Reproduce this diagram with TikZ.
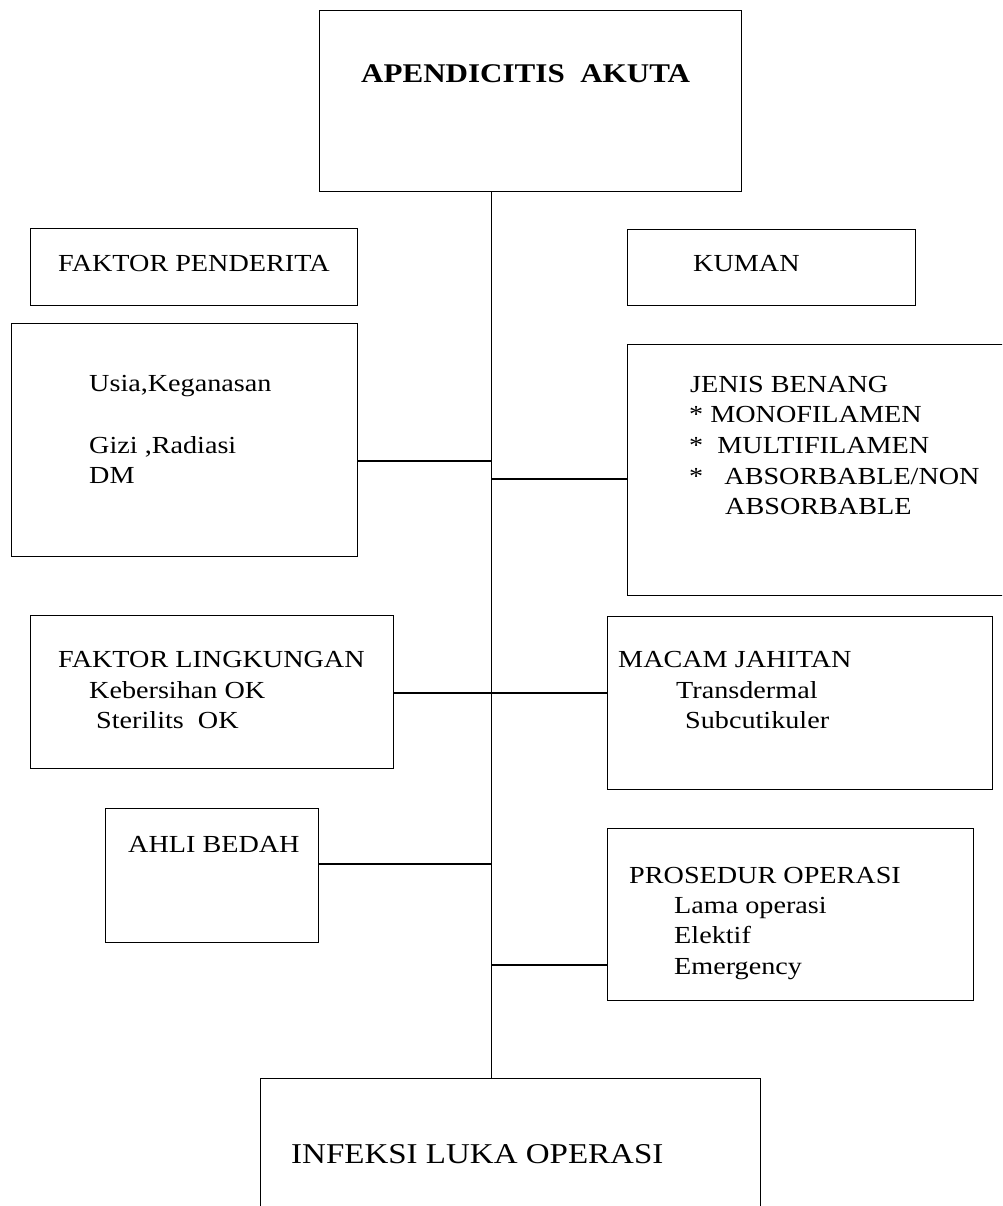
\documentclass[tikz,border=0pt]{standalone}
\usepackage{fontspec}
\setmainfont{Liberation Serif}[FakeStretch=1.15]
\begin{document}
\begin{tikzpicture}[x=1pt,y=-1pt,
    box/.style={draw,line width=1.4pt,inner sep=0pt,anchor=north west},
    txt/.style={anchor=base west,inner sep=0pt,font=\fontsize{24.5}{31}\selectfont},
    link/.style={line width=1.4pt}]
\clip (0,0) rectangle (1002,1206);
\node[box,minimum width=422,minimum height=181] (akut) at (319,10) {};
\node[box,minimum width=327,minimum height=77] (pend) at (30,228) {};
\node[box,minimum width=288,minimum height=76] (kuman) at (627,229) {};
\node[box,minimum width=346,minimum height=233] (usia) at (11,323) {};
\node[box,minimum width=390,minimum height=251] (jenis) at (627,344) {};
\node[box,minimum width=363,minimum height=153] (lingk) at (30,615) {};
\node[box,minimum width=385,minimum height=173] (macam) at (607,616) {};
\node[box,minimum width=213,minimum height=134] (ahli) at (105,808) {};
\node[box,minimum width=366,minimum height=172] (pros) at (607,828) {};
\node[box,minimum width=500,minimum height=140] (infek) at (260,1078) {};

\node[txt,font=\fontsize{27}{31}\selectfont\bfseries] (akutt) at (361,83) {APENDICITIS~~AKUTA};
\node[txt] (pendt) at (58,271) {FAKTOR PENDERITA};
\node[txt] (kument) at (693,271) {KUMAN};
\node[txt] (usia1) at (89,391) {Usia,Keganasan};
\node[txt] (usia2) at (89,453) {Gizi ,Radiasi};
\node[txt] (usia3) at (89,483) {DM};
\node[txt] (jenis1) at (690,392) {JENIS BENANG};
\node[txt] (jenis2) at (689,422) {* MONOFILAMEN};
\node[txt] (jenis3) at (689,453) {*~~MULTIFILAMEN};
\node[txt] (jenis4) at (689,484) {*~~~ABSORBABLE/NON};
\node[txt] (jenis5) at (725,514) {ABSORBABLE};
\node[txt] (lingk1) at (58,667) {FAKTOR LINGKUNGAN};
\node[txt] (lingk2) at (89,698) {Kebersihan OK};
\node[txt] (lingk3) at (96,728) {Sterilits~~OK};
\node[txt] (macam1) at (618,667) {MACAM JAHITAN};
\node[txt] (macam2) at (676,698) {Transdermal};
\node[txt] (macam3) at (685,728) {Subcutikuler};
\node[txt] (ahlit) at (128,852) {AHLI BEDAH};
\node[txt] (pros1) at (629,883) {PROSEDUR OPERASI};
\node[txt] (pros2) at (674,913) {Lama operasi};
\node[txt] (pros3) at (674,943) {Elektif};
\node[txt] (pros4) at (674,974) {Emergency};
\node[txt,font=\fontsize{28.7}{34}\selectfont] (infekt) at (291,1163) {INFEKSI LUKA OPERASI};

\coordinate (spt) at ([xshift=-39pt]akut.south);
\coordinate (spb) at (infek.north -| spt);
\coordinate (j1) at (491,461);
\coordinate (j2) at (491,479);
\coordinate (j3) at (491,693);
\coordinate (j4) at (491,864);
\coordinate (j5) at (491,965);
\draw[link] (spt) -- (spb);
\draw[link] (usia.east |- j1) -- (j1);
\draw[link] (j2) -- (jenis.west |- j2);
\draw[link] (lingk.east |- j3) -- (macam.west |- j3);
\draw[link] (ahli.east |- j4) -- (j4);
\draw[link] (j5) -- (pros.west |- j5);
\end{tikzpicture}
\end{document}
